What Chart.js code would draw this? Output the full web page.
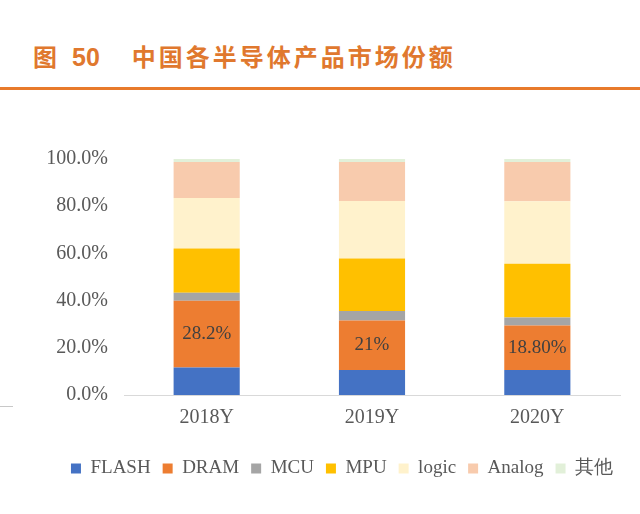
<!DOCTYPE html>
<html>
<head>
<meta charset="utf-8">
<script src="https://cdn.jsdelivr.net/npm/chart.js@4"></script>
<style>
  html, body { margin: 0; padding: 0; background: #fff; }
  body { width: 640px; height: 514px; position: relative; overflow: hidden; }
  .titulo {
    position: absolute; left: 33px; top: 38px;
    font-family: "Noto Sans CJK SC", sans-serif; font-weight: bold;
    font-size: 24px; color: #E0782E; white-space: nowrap; letter-spacing: 3px;
  }
  .titulo .num { font-family: "Liberation Sans", Arial, sans-serif; font-size: 25px; margin: 0 32px 0 12px; letter-spacing: 0; }
  .linea { position: absolute; left: 0; top: 87px; width: 640px; height: 3px; background: #E87A2B; }
  .marca { position: absolute; left: 0; top: 406px; width: 13px; height: 1px; background: #C8C8C8; }
  .grafico { position: absolute; left: 0; top: 120px; width: 640px; height: 394px; }
</style>
</head>
<body>
<div class="titulo">图<span class="num">50</span>中国各半导体产品市场份额</div>
<div class="linea"></div>
<div class="marca"></div>
<div class="grafico"><canvas id="grafico"></canvas></div>
<script>
const categorias = ["2018Y", "2019Y", "2020Y"];
const series = ["FLASH", "DRAM", "MCU", "MPU", "logic", "Analog", "其他"];
const colores = ["#4472C4", "#ED7D31", "#A5A5A5", "#FFC000", "#FFF2CC", "#F8CBAD", "#E2F0D9"];

const flash = [11.7, 10.6, 10.6];
const dram = [28.2, 21.0, 18.8];
const mcu = [3.4, 4.0, 3.4];
const mpu = [18.8, 22.2, 22.8];
const logic = [21.4, 24.4, 26.5];
const analog = [15.2, 16.5, 16.6];
const otros = [1.3, 1.3, 1.3];

const etiquetasDram = ["28.2%", "21%", "18.80%"];
const ticksY = [0, 20, 40, 60, 80, 100];

const valores = [flash, dram, mcu, mpu, logic, analog, otros];
const fuente = "Liberation Serif";

// etiqueta solo en la serie DRAM
const etiquetasPlugin = {
  id: "etiquetasDram",
  afterDatasetsDraw(chart) {
    const ctx = chart.ctx;
    const meta = chart.getDatasetMeta(1);
    ctx.save();
    ctx.font = "19px '" + fuente + "'";
    ctx.fillStyle = "#404040";
    ctx.textAlign = "center";
    ctx.textBaseline = "middle";
    meta.data.forEach((barra, i) => {
      ctx.fillText(etiquetasDram[i], barra.x, (barra.y + barra.base) / 2);
    });
    ctx.restore();
  }
};

// la leyenda del original va un poco a la derecha
const moverLeyenda = {
  id: "moverLeyenda",
  afterLayout(chart) {
    chart.legend.left += 32;
    chart.legend.right += 32;
  }
};

new Chart(document.getElementById("grafico"), {
  type: "bar",
  data: {
    labels: categorias,
    datasets: series.map((nombre, i) => ({
      label: nombre,
      data: valores[i],
      backgroundColor: colores[i],
      barPercentage: 0.4,
      categoryPercentage: 1.0
    }))
  },
  options: {
    responsive: true,
    maintainAspectRatio: false,
    animation: false,
    layout: { padding: { left: 0, right: 20, top: 39, bottom: 26 } },
    plugins: {
      legend: {
        position: "bottom",
        labels: {
          boxWidth: 10,
          boxHeight: 10,
          padding: 12,
          color: "#595959",
          font: { family: fuente, size: 19 }
        }
      },
      tooltip: { enabled: false }
    },
    scales: {
      x: {
        stacked: true,
        afterFit(scale) { scale.height = 52; },
        grid: { display: false },
        border: { color: "#D9D9D9" },
        ticks: { color: "#595959", font: { family: fuente, size: 20 }, padding: 3 }
      },
      y: {
        stacked: true,
        min: 0,
        max: 100,
        afterFit(scale) { scale.width = 124; },
        afterBuildTicks(scale) { scale.ticks = ticksY.map(v => ({ value: v })); },
        grid: { display: false },
        border: { display: false },
        ticks: {
          color: "#595959",
          font: { family: fuente, size: 20 },
          padding: 8,
          callback: v => v.toFixed(1) + "%"
        }
      }
    }
  },
  plugins: [etiquetasPlugin, moverLeyenda]
});
</script>
</body>
</html>
